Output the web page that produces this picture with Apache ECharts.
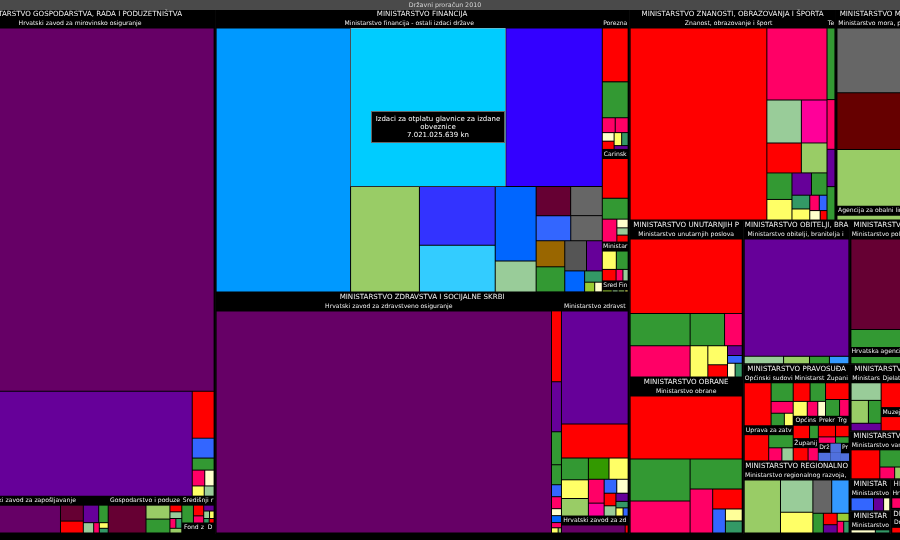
<!DOCTYPE html>
<html><head><meta charset="utf-8">
<script src="https://cdn.jsdelivr.net/npm/echarts@6/dist/echarts.min.js"></script>
<style>html,body{margin:0;padding:0;background:#000;overflow:hidden}#c{width:900px;height:540px}</style>
</head><body><div id="c"></div>
<script>
const naslov = 'Državni proračun 2010';
const tipNaziv = 'Izdaci za otplatu glavnice za izdane obveznice';

// generic budget item names for leaves (activities)
const stavke = ['Rashodi za zaposlene','Materijalni rashodi','Financijski rashodi','Subvencije','Pomoći unutar opće države',
  'Naknade građanima i kućanstvima','Ostali rashodi','Nabava nefinancijske imovine','Kapitalne pomoći','Tekuće donacije',
  'Kapitalne donacije','Informatizacija','Međunarodna suradnja','Stručno osposobljavanje','Administracija i upravljanje',
  'Investicijsko održavanje','Opremanje','Programi i projekti'];

// ---- values in millions of kuna ----
// Ministarstvo gospodarstva, rada i poduzetništva
const hzmo = [27018, 7159, 284, 121, 73, 55, 41, 34, 28];
const hzz = [1148, 131, 98, 97, 60, 38.5, 21, 18, 15];
const gospPod = [379, 120, 120, 28.5, 28.5, 21, 21, 20];
const regos = [85, 45, 30, 25, 18, 14, 10, 9];
const fondRaz = [40, 18, 8];
const inspektorat = [15, 7];
// Ministarstvo financija
const mfo = [10128, 7021.025639, 4366, 2071, 1269, 1011, 871, 360, 287, 263, 248, 226, 213, 205, 187, 136, 119, 57, 28, 21];
const mfoNazivi = ['Kamate za izdane vrijednosne papire', 'Izdaci za otplatu glavnice za izdane obveznice',
  'Otplata glavnice primljenih kredita', 'Kamate za primljene kredite', 'Pomoći jedinicama lokalne i područne samouprave',
  'Fiskalno izravnanje', 'Doprinosi za zdravstveno osiguranje', 'Proračunska zaliha', 'Sredstva za otplatu jamstava',
  'Otplata zajmova od međunarodnih organizacija', 'Financiranje političkih stranaka', 'Otplata kratkoročnih zajmova',
  'Povrat poreza', 'Državne potpore', 'Kamate za kredite od inozemnih banaka', 'Naknade za restituciju',
  'Doprinosi međunarodnim organizacijama', 'Ostali izdaci države', 'Tekuće pomoći', 'Kapitalne pomoći'];
const porezna = [413, 275, 57, 57, 30, 29, 29, 25, 16];
const carinska = [315, 165, 102, 30, 25, 24];
const minFin = [92.5, 78, 57, 28.5, 21.5];
const harmonizacija = [30, 18];
const finPolicija = [20, 10.3];
// Ministarstvo zdravstva i socijalne skrbi
const hzzo = [21530, 204, 144, 95, 57.5, 34.5, 34.5, 20, 20, 15, 10, 5];
const minZdr = [2187, 658, 170, 146, 137, 127, 118, 109, 59, 51, 46, 43, 35, 29, 23, 17, 12];
const hzzoRad = [300, 14];
// Ministarstvo znanosti, obrazovanja i športa
const znanost = [7719, 1273, 436, 324, 304, 226, 196, 152, 128, 102, 72, 58, 43, 35, 29, 19];
const tehKultura = [167, 116, 87, 78];
// Ministarstvo mora, prometa i infrastrukture
const mmpi = [2061, 1807, 1513, 120, 95, 80];
const agencijaObala = [300, 122];
// Ostala ministarstva
const mup = [2558, 594, 576, 341, 175, 170, 115, 74, 44, 35, 32, 30];
const morh = [2168, 773, 589, 480, 305, 181, 94, 62, 62];
const obitelj = [3821, 91, 60, 46, 45];
const polj = [2653, 368, 100, 57];
const agencijaZemljiste = [300, 144];
const opcSudovi = [420, 150, 95, 60, 40];
const zatvori = [260, 130, 70, 60];
const minPrav = [120, 110, 80, 60, 44];
const zupSudovi = [150, 90, 61];
const zupOdvj = [100, 69];
const opcOdvj = [110, 59];
const prekrSudovi = [90, 50];
const trgSudovi = [70, 40];
const dorh = [24, 10];
const vrhSud = [20, 10];
const visPrekr = [18, 10];
const uskok = [18, 10];
const pravAkademija = [14, 10];
const upravniSud = [12, 7];
const regRazvoj = [706, 385, 245, 230, 212, 76, 58, 42, 35, 28, 23];
const minKult = [200, 150, 110, 86];
const djelKult = [250, 140, 96];
const muzeji = [160, 100, 74];
const arhivi = [150, 100, 71];
const mvpei = [380, 180, 80, 44];
const uredVlade = [200, 120];
const strucneSluzbe = [130, 74];
const mzopug = [200, 90, 55];
const turizam = [150, 89];
const sabor = [100, 59];
const dgu = [90, 43];
const duzs = [80, 39];
const dzs = [70, 36];
const predsjednik = [60, 33];
const revizija = [40, 26];
const ustavni = [25, 15];
const dziv = [17, 10];
const dip = [14, 8];
const pucki = [8, 5];

// hierarchy: ministry -> organisational units -> value arrays
const proracun = [
  ['MINISTARSTVO GOSPODARSTVA, RADA I PODUZETNIŠTVA', [
    ['Hrvatski zavod za mirovinsko osiguranje', hzmo], ['Hrvatski zavod za zapošljavanje', hzz],
    ['Gospodarstvo i poduzetništvo', gospPod], ['Središnji registar osiguranika', regos],
    ['Fond za razvoj i zapošljavanje', fondRaz], ['Državni inspektorat', inspektorat]]],
  ['MINISTARSTVO FINANCIJA', [
    ['Ministarstvo financija - ostali izdaci države', mfo], ['Porezna uprava', porezna],
    ['Carinska uprava', carinska], ['Ministarstvo financija', minFin],
    ['Središnja harmonizacijska jedinica', harmonizacija], ['Financijska policija', finPolicija]]],
  ['MINISTARSTVO ZDRAVSTVA I SOCIJALNE SKRBI', [
    ['Hrvatski zavod za zdravstveno osiguranje', hzzo], ['Ministarstvo zdravstva i socijalne skrbi', minZdr],
    ['Hrvatski zavod za zdravstveno osiguranje zaštite zdravlja na radu', hzzoRad]]],
  ['MINISTARSTVO ZNANOSTI, OBRAZOVANJA I ŠPORTA', [
    ['Znanost, obrazovanje i šport', znanost], ['Tehnička kultura', tehKultura]]],
  ['MINISTARSTVO MORA, PROMETA I INFRASTRUKTURE', [
    ['Ministarstvo mora, prometa i infrastrukture', mmpi], ['Agencija za obalni linijski pomorski promet', agencijaObala]]],
  ['MINISTARSTVO UNUTARNJIH POSLOVA', [['Ministarstvo unutarnjih poslova', mup]]],
  ['MINISTARSTVO OBRANE', [['Ministarstvo obrane', morh]]],
  ['MINISTARSTVO OBITELJI, BRANITELJA I MEĐUGENERACIJSKE SOLIDARNOSTI', [
    ['Ministarstvo obitelji, branitelja i međugeneracijske solidarnosti', obitelj]]],
  ['MINISTARSTVO POLJOPRIVREDE, RIBARSTVA I RURALNOG RAZVOJA', [
    ['Ministarstvo poljoprivrede, ribarstva i ruralnog razvoja', polj],
    ['Hrvatska agencija za poljoprivredno zemljište', agencijaZemljiste]]],
  ['MINISTARSTVO PRAVOSUĐA', [
    ['Općinski sudovi', opcSudovi], ['Uprava za zatvorski sustav', zatvori], ['Ministarstvo pravosuđa', minPrav],
    ['Županijski sudovi', zupSudovi], ['Županijska državna odvjetništva', zupOdvj], ['Općinska državna odvjetništva', opcOdvj],
    ['Prekršajni sudovi', prekrSudovi], ['Trgovački sudovi', trgSudovi], ['Državno odvjetništvo Republike Hrvatske', dorh],
    ['Vrhovni sud Republike Hrvatske', vrhSud], ['Visoki prekršajni sud', visPrekr],
    ['Ured za suzbijanje korupcije i organiziranog kriminaliteta', uskok], ['Pravosudna akademija', pravAkademija],
    ['Upravni sud Republike Hrvatske', upravniSud]]],
  ['MINISTARSTVO REGIONALNOG RAZVOJA, ŠUMARSTVA I VODNOGA GOSPODARSTVA', [
    ['Ministarstvo regionalnog razvoja, šumarstva i vodnoga gospodarstva', regRazvoj]]],
  ['MINISTARSTVO KULTURE', [
    ['Ministarstvo kulture', minKult], ['Djelatnost ustanova u kulturi', djelKult], ['Muzeji i galerije', muzeji], ['Arhivi', arhivi]]],
  ['MINISTARSTVO VANJSKIH POSLOVA I EUROPSKIH INTEGRACIJA', [['Ministarstvo vanjskih poslova i europskih integracija', mvpei]]],
  ['VLADA REPUBLIKE HRVATSKE', [['Ured predsjednika Vlade Republike Hrvatske', uredVlade], ['Stručne službe Vlade', strucneSluzbe]]],
  ['MINISTARSTVO ZAŠTITE OKOLIŠA, PROSTORNOGA UREĐENJA I GRADITELJSTVA', [['Ministarstvo zaštite okoliša, prostornoga uređenja i graditeljstva', mzopug]]],
  ['MINISTARSTVO TURIZMA', [['Ministarstvo turizma', turizam]]],
  ['HRVATSKI SABOR', [['Hrvatski sabor', sabor]]],
  ['DRŽAVNA GEODETSKA UPRAVA', [['Državna geodetska uprava', dgu]]],
  ['DRŽAVNA UPRAVA ZA ZAŠTITU I SPAŠAVANJE', [['Državna uprava za zaštitu i spašavanje', duzs]]],
  ['DRŽAVNI ZAVOD ZA STATISTIKU', [['Državni zavod za statistiku', dzs]]],
  ['PREDSJEDNIK REPUBLIKE HRVATSKE', [['Ured predsjednika Republike Hrvatske', predsjednik]]],
  ['DRŽAVNI URED ZA REVIZIJU', [['Državni ured za reviziju', revizija]]],
  ['USTAVNI SUD REPUBLIKE HRVATSKE', [['Ustavni sud Republike Hrvatske', ustavni]]],
  ['DRŽAVNI ZAVOD ZA INTELEKTUALNO VLASNIŠTVO', [['Državni zavod za intelektualno vlasništvo', dziv]]],
  ['DRŽAVNO IZBORNO POVJERENSTVO', [['Državno izborno povjerenstvo', dip]]],
  ['PUČKI PRAVOBRANITELJ', [['Pučki pravobranitelj', pucki]]]
];
const nazivi = { 'Ministarstvo financija - ostali izdaci države': mfoNazivi };

// ---- styles ----
const paleta = ['#ff0000','#339933','#ff0066','#ffff66','#99cc66','#99cc99','#3366ff','#660099','#ffffcc','#339966','#660033','#ff0099'];
const boje = {
  'Hrvatski zavod za mirovinsko osiguranje': ['#660066','#660099','#ff0000','#3366ff','#339933','#ff0066','#ffffcc','#ffff66','#99cc99'],
  'Hrvatski zavod za zapošljavanje': ['#660066','#660033','#ff0000','#660099','#339933','#99cc99','#ff0066','#ffff66','#339966'],
  'Gospodarstvo i poduzetništvo': ['#660033','#339933','#99cc66','#99cc99','#ff0000','#339966','#ff0066','#99cc66'],
  'Središnji registar osiguranika': ['#339933','#ff0000','#ff0066','#660099','#99cc99','#ffff66','#339966','#ff0000'],
  'Fond za razvoj i zapošljavanje': ['#660099','#339933','#99cc66'],
  'Ministarstvo financija - ostali izdaci države': ['#0099ff','#00ccff','#3300ff','#99cc66','#3333ff','#33ccff','#0066ff','#99cc99','#660033','#666666','#3366ff','#666666','#996600','#339933','#555555','#660099','#0066ff','#339966','#99cc33','#ffffcc'],
  'Porezna uprava': ['#ff0000','#339933','#ff0066','#ff0066','#ffffcc','#ffff66','#ff0000','#339966','#660099'],
  'Carinska uprava': ['#ff0000','#339933','#ff0066','#ffffcc','#99cc99','#ff0000'],
  'Ministarstvo financija': ['#ffff66','#339933','#ff0000','#ff0066','#99cc99'],
  'Središnja harmonizacijska jedinica': ['#99cc33','#99cc99'],
  'Financijska policija': ['#99cc66','#ffff66'],
  'Hrvatski zavod za zdravstveno osiguranje': ['#660066','#ff0000','#660099','#339933','#339933','#ff0066','#3366ff','#0066ff','#ffffcc','#ff0066','#ffff66','#99cc66'],
  'Ministarstvo zdravstva i socijalne skrbi': ['#660099','#ff0000','#339933','#ffff66','#99cc66','#339900','#ffff66','#ff0066','#ff0099','#3366ff','#ffffcc','#ff0000','#99cc99','#660099','#339966','#ffff66','#3366ff'],
  'Hrvatski zavod za zdravstveno osiguranje zaštite zdravlja na radu': ['#660066','#ff0000'],
  'Znanost, obrazovanje i šport': ['#ff0000','#ff0066','#99cc99','#ff0099','#ff0000','#99cc66','#339933','#ffff66','#660099','#339933','#339966','#ffff66','#ff0066','#3366ff','#ffffcc','#ff0000'],
  'Tehnička kultura': ['#339933','#ff0066','#660099','#339933'],
  'Ministarstvo mora, prometa i infrastrukture': ['#666666','#660000','#99cc66','#ff0000','#339933','#3366ff'],
  'Agencija za obalni linijski pomorski promet': ['#99cc66','#339933'],
  'Ministarstvo unutarnjih poslova': ['#ff0000','#339933','#ff0066','#339933','#ff0066','#ffff66','#ffff66','#ff0000','#660099','#3366ff','#ffffcc','#339966'],
  'Ministarstvo obrane': ['#ff0000','#339933','#ff0066','#339933','#ff0066','#ff0000','#3366ff','#339966','#ffff99'],
  'Ministarstvo obitelji, branitelja i međugeneracijske solidarnosti': ['#660099','#99cc99','#99cc66','#339933','#3399ff'],
  'Ministarstvo poljoprivrede, ribarstva i ruralnog razvoja': ['#660033','#339933','#ff0066','#99cc99'],
  'Hrvatska agencija za poljoprivredno zemljište': ['#339933','#99cc66'],
  'Općinski sudovi': ['#ff0000','#339933','#ff0066','#339933','#ffff66'],
  'Uprava za zatvorski sustav': ['#ff0000','#339933','#ff0066','#99cc99'],
  'Ministarstvo pravosuđa': ['#ff0000','#339933','#ffff66','#ff0066','#ffffcc'],
  'Županijski sudovi': ['#ff0000','#339933','#ff0066'],
  'Županijska državna odvjetništva': ['#ff0000','#ff0066'],
  'Općinska državna odvjetništva': ['#ff0000','#339933'],
  'Prekršajni sudovi': ['#ff0000','#ff0066'],
  'Trgovački sudovi': ['#ff0000','#339933'],
  'Državno odvjetništvo Republike Hrvatske': ['#ff0000','#660099'],
  'Vrhovni sud Republike Hrvatske': ['#ff0000','#ff0066'],
  'Visoki prekršajni sud': ['#ff0000','#339933'],
  'Ured za suzbijanje korupcije i organiziranog kriminaliteta': ['#ff0066','#ff0000'],
  'Pravosudna akademija': ['#ff0000','#99cc99'],
  'Upravni sud Republike Hrvatske': ['#ff0000','#ff0066'],
  'Ministarstvo regionalnog razvoja, šumarstva i vodnoga gospodarstva': ['#99cc66','#99cc99','#ffff66','#666666','#3399ff','#339933','#ff0000','#660099','#99cc33','#ff0066','#339966'],
  'Ministarstvo kulture': ['#99cc99','#99cc66','#339933','#660099'],
  'Djelatnost ustanova u kulturi': ['#ff0000','#339933','#99cc66'],
  'Muzeji i galerije': ['#ff0000','#ff0066','#ffffcc'],
  'Arhivi': ['#ff0000','#339933','#660099'],
  'Ministarstvo vanjskih poslova i europskih integracija': ['#ff0000','#339933','#ff0066','#99cc66']
};

const data = [{
  name: naslov,
  children: proracun.map(([ministarstvo, jedinice]) => ({
    name: ministarstvo,
    children: jedinice.map(([jedinica, vrijednosti], j) => {
      const cols = boje[jedinica] || [];
      const names = nazivi[jedinica] || [];
      return {
        name: jedinica,
        children: vrijednosti.map((v, i) => {
          const nm = names[i] || stavke[i % stavke.length];
          const node = { name: nm, value: v, itemStyle: { color: cols[i] || paleta[(i + j * 3 + jedinica.length) % paleta.length] } };
          if (nm === tipNaziv) node.itemStyle.borderColor = '#b0b0b0';
          return node;
        })
      };
    })
  }))
}];

const fmt = v => String(Math.round(v * 1e6)).replace(/\B(?=(\d{3})+(?!\d))/g, '.');

const chart = echarts.init(document.getElementById('c'), null, { renderer: 'canvas' });
chart.setOption({
  backgroundColor: '#000',
  animation: false,
  tooltip: {
    trigger: 'item',
    triggerOn: 'none',
    alwaysShowContent: true,
    transitionDuration: 0,
    position: [371, 111],
    backgroundColor: '#000',
    borderColor: '#666',
    borderWidth: 1,
    padding: [3, 2],
    textStyle: { color: '#fff', fontSize: 7, fontFamily: 'DejaVu Sans' },
    extraCssText: 'border-radius:0;box-shadow:none;',
    formatter: p => '<div style="width:128px;white-space:normal;text-align:center;line-height:8px;font-size:7px">' +
      p.name + '<br>' + fmt(p.value) + ' kn</div>'
  },
  series: [{
    type: 'treemap',
    name: naslov,
    left: -55, top: 0, width: 1000, height: 534,
    squareRatio: 1,
    roam: false,
    nodeClick: false,
    drillDownIcon: '',
    breadcrumb: { show: false },
    visibleMin: 1,
    label: { show: false },
    upperLabel: {
      show: true, height: 9, position: 'inside', color: '#f0f0f0',
      fontFamily: 'DejaVu Sans', fontSize: 6.1, overflow: 'truncate', ellipsis: ''
    },
    itemStyle: { borderColor: '#000', borderWidth: 0, gapWidth: 0 },
    emphasis: { disabled: true },
    levels: [
      { itemStyle: { borderColor: '#000', borderWidth: 0, gapWidth: 0 }, upperLabel: { show: false } },
      { itemStyle: { borderColor: '#4a4a4a', borderWidth: 0, gapWidth: 0 }, upperLabel: { show: true, height: 10, color: '#d8d8d8', fontSize: 6.3 } },
      { itemStyle: { borderColor: '#000', borderWidth: 1, gapWidth: 0 }, upperLabel: { show: true, height: 9, fontSize: 7.1 } },
      { itemStyle: { borderColor: '#000', borderWidth: 0, gapWidth: 0 }, upperLabel: { show: true, height: 9 } },
      { itemStyle: { borderColor: '#000', borderWidth: 0.5 } }
    ],
    data: data
  }]
});
chart.dispatchAction({ type: 'showTip', x: 437, y: 105 });
</script></body></html>
